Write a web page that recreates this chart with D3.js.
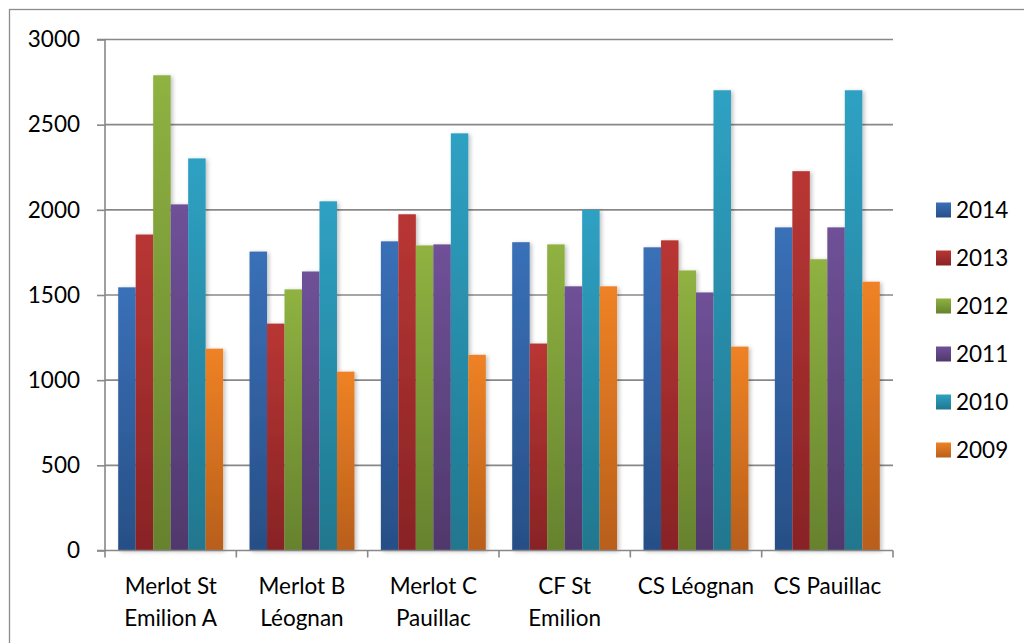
<!DOCTYPE html>
<html><head><meta charset="utf-8">
<script src="https://cdn.jsdelivr.net/npm/d3@7"></script>
<style>html,body{margin:0;padding:0;background:#fff;overflow:hidden}</style>
</head><body>
<svg id="c" width="1024" height="643"></svg>
<script>
const categories = [["Merlot St","Emilion A"],["Merlot B","Léognan"],["Merlot C","Pauillac"],["CF St","Emilion"],["CS Léognan"],["CS Pauillac"]];
const seriesNames = ["2014","2013","2012","2011","2010","2009"];
const v2014 = [1545,1755,1815,1810,1780,1897];
const v2013 = [1855,1332,1974,1215,1821,2227];
const v2012 = [2790,1533,1791,1797,1644,1710];
const v2011 = [2032,1638,1797,1551,1515,1897];
const v2010 = [2302,2050,2449,2000,2702,2702];
const v2009 = [1185,1050,1149,1551,1197,1578];
const seriesValues = [v2014,v2013,v2012,v2011,v2010,v2009];
const yTicks = [0,500,1000,1500,2000,2500,3000];
const colorsTop = ["#3a70b8","#b93634","#8fb241","#6f5198","#2fa1c3","#ef8225"];
const colorsBot = ["#274f86","#882325","#66822e","#50386c","#20778e","#b85f1b"];

const svg = d3.select("#c");
const font = "Lato, 'Open Sans', sans-serif";
const FS = 22.5;
const L = 105, R = 893, T = 39.5, B = 550.5;

// outer border
svg.append("rect").attr("x",9.5).attr("y",9.5).attr("width",1100).attr("height",700)
  .attr("fill","none").attr("stroke","#8c8c8c").attr("stroke-width",1.3);

const defs = svg.append("defs");
seriesNames.forEach((s,i)=>{
  const g = defs.append("linearGradient").attr("id","g"+i).attr("x1",0).attr("y1",0).attr("x2",0).attr("y2",1);
  g.append("stop").attr("offset","0%").attr("stop-color",colorsTop[i]);
  g.append("stop").attr("offset","100%").attr("stop-color",colorsBot[i]);
});
const f = defs.append("filter").attr("id","sh").attr("x","-20%").attr("y","-5%").attr("width","160%").attr("height","110%");
f.append("feGaussianBlur").attr("in","SourceAlpha").attr("stdDeviation",2).attr("result","b");
f.append("feOffset").attr("in","b").attr("dx",2).attr("dy",1).attr("result","o");
f.append("feComponentTransfer").attr("in","o").attr("result","t").append("feFuncA").attr("type","linear").attr("slope",0.25);
const m = f.append("feMerge"); m.append("feMergeNode").attr("in","t"); m.append("feMergeNode").attr("in","SourceGraphic");

const y = d3.scaleLinear().domain([0,3000]).range([B,T]);
const x0 = d3.scaleBand().domain(d3.range(categories.length)).range([L,R]).paddingInner(0).paddingOuter(0);
const x1 = d3.scaleBand().domain(d3.range(seriesNames.length)).range([13.2, x0.bandwidth()-13.2]);

// gridlines
svg.append("g").selectAll("line").data(yTicks.filter(t=>t>0)).join("line")
  .attr("x1",L).attr("x2",R).attr("y1",d=>y(d)).attr("y2",d=>y(d))
  .attr("stroke","#888").attr("stroke-width",1.6);

// bars
const gg = svg.append("g").attr("filter","url(#sh)");
categories.forEach((c,ci)=>{
  seriesValues.forEach((vals,si)=>{
    gg.append("rect").attr("x",x0(ci)+x1(si)).attr("width",x1.bandwidth())
      .attr("y",y(vals[ci])).attr("height",B-y(vals[ci])).attr("fill","url(#g"+si+")");
  });
});

// y axis
const ya = svg.append("g").attr("transform",`translate(${L},0)`)
  .call(d3.axisLeft(y).tickValues(yTicks).tickFormat(d3.format("d")).tickSize(8).tickPadding(17));
ya.select(".domain").attr("stroke","#888").attr("stroke-width",1.6).attr("d",`M-8,${T}H0V${B}H-8`);
ya.selectAll(".tick line").attr("stroke","#888").attr("stroke-width",1.6);
ya.selectAll("text").attr("font-family",font).attr("font-size",FS).attr("fill","#000");

// x axis
const xa = svg.append("g").attr("transform",`translate(0,${B})`);
xa.append("line").attr("x1",L).attr("x2",R).attr("y1",0).attr("y2",0).attr("stroke","#888").attr("stroke-width",1.6);
const xt = d3.range(categories.length+1).map(i=>L+i*x0.bandwidth());
xa.selectAll("line.t").data(xt).join("line").attr("class","t")
  .attr("x1",d=>d).attr("x2",d=>d).attr("y1",0).attr("y2",7).attr("stroke","#888").attr("stroke-width",1.6);
categories.forEach((c,ci)=>{
  const t = xa.append("text").attr("x",x0(ci)+x0.bandwidth()/2).attr("y",43)
    .attr("text-anchor","middle").attr("font-family",font).attr("font-size",FS).attr("fill","#000");
  c.forEach((line,li)=>t.append("tspan").attr("x",x0(ci)+x0.bandwidth()/2).attr("dy",li?32:0).text(line));
});

// legend
const lg = svg.append("g");
seriesNames.forEach((s,i)=>{
  const cy = 210 + i*48;
  lg.append("rect").attr("x",936).attr("y",cy-7.5).attr("width",15).attr("height",15).attr("fill","url(#g"+i+")");
  lg.append("text").attr("x",956).attr("y",cy).attr("dy","0.35em").attr("font-family",font).attr("font-size",FS).attr("fill","#000").text(s);
});
</script>
</body></html>
